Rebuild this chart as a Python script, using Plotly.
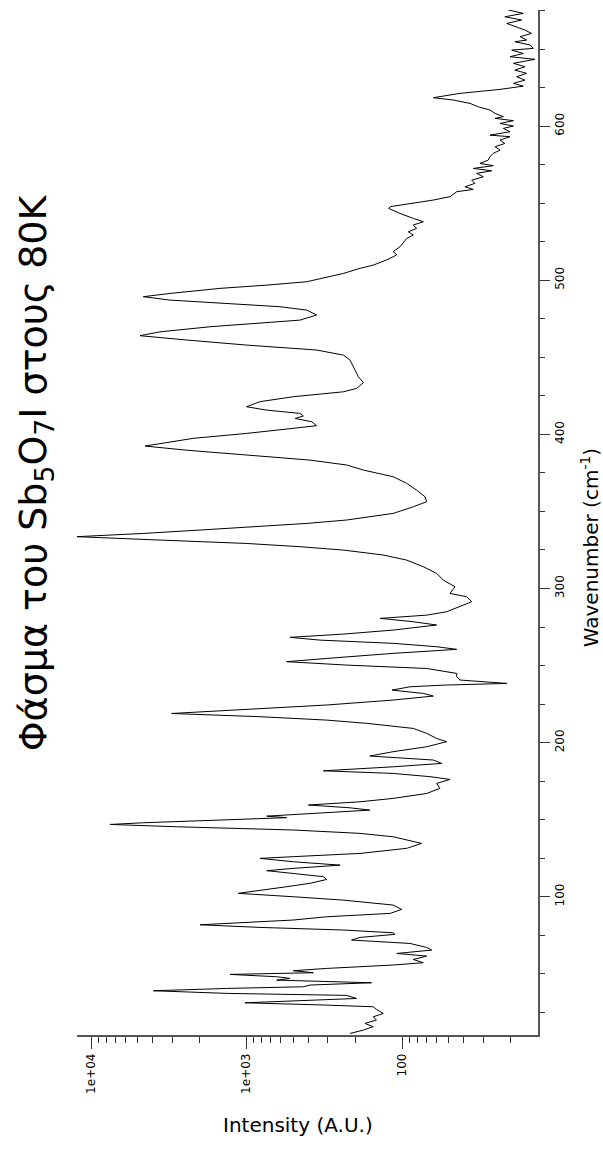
import plotly.graph_objects as go

# Raman spectrum of Sb5O7I at 80K
wavenumber = [
    675.3, 673.1, 670.9, 668.8, 666.6, 664.4, 662.3, 660.1, 658.0, 655.8, 654.7, 652.6, 650.4, 649.3,
    647.1, 645.0, 643.3, 640.7, 638.5, 636.3, 634.2, 632.0, 629.8, 627.7, 625.9, 623.8, 621.2, 618.4,
    616.9, 614.7, 612.5, 610.4, 608.2, 606.1, 605.0, 603.5, 601.7, 600.0, 598.5, 596.3, 594.1, 593.1,
    590.9, 588.7, 586.6, 584.4, 582.3, 580.1, 577.9, 575.8, 574.3, 572.5, 571.0, 569.3, 567.1, 564.9,
    562.8, 560.6, 558.9, 557.4, 554.2, 552.0, 549.8, 547.7, 546.6, 545.1, 543.3, 540.1, 537.9, 535.8,
    533.6, 531.4, 529.3, 527.1,
    521.7, 518.5, 516.5, 515.2, 513.1, 509.8, 507.7, 504.4, 501.2, 499.0, 496.8, 494.7, 491.4, 489.3,
    487.1, 485.0, 482.8, 480.6, 477.4, 474.1, 472.0, 469.8, 466.5, 464.0, 461.2, 457.9, 454.7,
    451.4, 448.2, 441.7, 437.4, 433.5, 429.8, 427.6, 424.4, 421.2, 417.9, 415.7, 413.6, 411.9, 410.3,
    408.2, 405.6, 403.9, 400.6, 397.4, 394.1, 392.4, 389.7, 386.6, 383.3, 380.1, 376.8, 372.5, 368.2,
    363.8, 359.5, 356.3, 353.0,
    348.7, 346.5, 344.4, 342.2, 340.0, 337.9, 335.7, 333.6, 331.4, 329.2, 327.1, 324.9, 321.7, 318.4,
    314.1, 309.8, 305.4, 301.1, 296.8, 294.6, 291.4, 288.1, 284.9, 282.7, 280.6, 278.4, 276.3, 273.0,
    270.4, 268.3, 266.5, 264.4, 262.2, 260.5, 257.9, 254.6, 252.5, 250.3, 248.1, 244.9, 242.7, 240.6,
    238.4, 237.3,
    236.2, 234.1, 231.9, 230.2, 227.6, 224.4, 221.1, 218.9, 216.8, 214.6, 212.5, 209.2, 206.0, 202.7,
    200.6, 197.3, 194.1, 191.3, 188.7, 186.5, 184.3, 181.7, 180.0, 177.9, 176.1, 173.5, 170.3, 167.0,
    163.8, 161.6, 159.5, 157.7, 156.2, 154.1, 152.3, 151.3, 149.7, 148.0, 146.9, 145.4, 143.3, 141.1,
    138.9, 135.7, 134.6, 131.4, 128.1, 126.0,
    124.9, 122.7, 120.5, 118.4, 116.9, 115.1, 113.0, 111.2, 108.7, 106.5, 104.3, 102.2, 100.0, 97.8,
    94.6, 91.8, 89.2, 87.0, 84.9, 82.7, 81.8, 80.1, 78.4, 76.6, 75.6, 73.6, 71.9, 69.7,
    67.1, 65.4, 63.2, 61.5, 59.3, 57.2, 55.7, 53.5, 52.0, 50.7, 49.6, 48.1, 47.0, 45.9,
    44.2, 42.7, 41.6, 40.5, 39.0, 37.3, 36.0, 34.0, 32.5, 31.2, 29.7, 28.6, 26.9, 24.3,
    22.1, 20.0, 17.8, 15.7, 13.5, 11.3,
]

intensity = [
    20.7, 16.6, 21.8, 17.0, 21.2, 18.3, 16.2, 14.7, 17.4, 15.8, 18.8, 15.0, 14.3, 19.7,
    16.6, 20.2, 14.0, 19.2, 16.2, 18.8, 15.8, 18.3, 16.2, 19.2, 16.6, 23.4, 42.4, 62.9,
    46.8, 36.5, 32.3, 27.2, 25.2, 22.3, 25.2, 19.2, 23.4, 19.2, 22.3, 20.2, 27.2, 20.2,
    23.4, 21.8, 25.2, 23.4, 25.9, 27.2, 27.9, 31.5, 25.9, 34.8, 26.5, 33.1, 30.0, 35.6,
    34.0, 39.4, 34.8, 44.5, 49.1, 62.9, 88.8, 119, 122, 114, 103, 84.6, 72.9, 84.6,
    80.5, 91.1, 84.6, 93.3,
    103, 114, 108, 114, 126, 153, 186, 238, 320, 410, 741, 1481, 3105, 4607,
    3105, 1342, 609, 410, 354, 453, 860, 1716, 3597, 4840, 2427, 998, 354,
    238, 216, 201, 191, 177, 196, 238, 500, 818, 998, 741, 453, 431, 487,
    381, 354, 500, 998, 2197, 3597, 4495, 2427, 998, 391, 227, 177, 114, 93.3,
    80.5, 71.1, 69.4, 84.6,
    114, 161, 227, 410, 998, 1990, 4607, 12360, 3597, 998, 453, 238, 132, 93.3,
    72.9, 59.9, 54.2, 45.6, 49.1, 38.4, 35.6, 42.4, 51.6, 69.4, 138, 84.6, 59.9, 114,
    238, 525, 337, 114, 59.9, 44.5, 114, 305, 552, 227, 69.4, 44.5, 44.5, 42.4,
    21.2, 54.2,
    88.8, 116, 72.9, 62.9, 114, 305, 1342, 3030, 818, 305, 169, 84.6, 69.4, 59.9,
    51.6, 69.4, 114, 161, 62.9, 55.6, 114, 320, 114, 66.1, 49.1, 59.9, 57.0, 69.4,
    114, 186, 400, 216, 161, 372, 741, 552, 1716, 4607, 7550, 2812, 500, 186,
    114, 80.5, 74.8, 93.3, 186, 500,
    818, 500, 250, 500, 741, 500, 320, 305, 391, 552, 818, 1130, 500, 238,
    114, 100.5, 119, 305, 500, 1342, 1990, 818, 238, 114, 111, 186, 211, 88.8,
    69.4, 64.4, 108, 69.4, 84.6, 72.9, 114, 305, 500, 372, 1277, 640, 525, 640,
    157, 391, 431, 1342, 3970, 1342, 227, 196, 500, 1023, 305, 153, 146, 132,
    153, 146, 173, 153, 177, 216,
]

x_tick_vals = [100, 1000, 10000]
x_tick_text = ["100", "1e+03", "1e+04"]
x_minor_vals = [20, 30, 40, 50, 60, 70, 80, 90,
                200, 300, 400, 500, 600, 700, 800, 900,
                2000, 3000, 4000, 5000, 6000, 7000, 8000, 9000]
y_tick_vals = [100, 200, 300, 400, 500, 600]

title_text = "Φάσμα του Sb<sub>5</sub>O<sub>7</sub>I στους 80K"
x_title = "Intensity (A.U.)"
y_title = "Wavenumber (cm<sup>-1</sup>)"

FONT = "DejaVu Sans"
AXIS_COLOR = "#555555"

fig = go.Figure()
fig.add_trace(go.Scatter(
    x=intensity, y=wavenumber, mode="lines",
    line=dict(color="black", width=1),
    showlegend=False, hoverinfo="skip",
))

fig.update_layout(
    width=603, height=1152,
    margin=dict(l=77, r=65, t=10, b=117),
    paper_bgcolor="white", plot_bgcolor="white",
    font=dict(family=FONT, color="black"),
    xaxis=dict(
        type="log", range=[4.090, 1.1254],
        tickmode="array", tickvals=x_tick_vals, ticktext=x_tick_text,
        tickangle=-90, tickfont=dict(size=12, family=FONT, color="black"),
        ticks="outside", ticklen=12, tickwidth=1, tickcolor="#333333",
        minor=dict(tickmode="array", tickvals=x_minor_vals, ticks="outside",
                   ticklen=6, tickwidth=1, tickcolor="#333333"),
        showline=True, linecolor=AXIS_COLOR, linewidth=1.5,
        showgrid=False, zeroline=False, automargin=False,
    ),
    yaxis=dict(
        side="right", range=[10.3, 675.3],
        tickmode="array", tickvals=y_tick_vals,
        tickangle=-90, tickfont=dict(size=12, family=FONT, color="black"),
        ticks="outside", ticklen=10, tickwidth=1, tickcolor="#333333",
        minor=dict(dtick=25, tick0=0, ticks="outside", ticklen=5,
                   tickwidth=1, tickcolor="#333333"),
        showline=True, linecolor=AXIS_COLOR, linewidth=1.5,
        showgrid=False, zeroline=False, automargin=False,
    ),
)

fig.add_annotation(
    text=title_text, xref="paper", yref="paper",
    x=-0.0911, y=0.548, xanchor="center", yanchor="middle",
    textangle=-90, showarrow=False,
    font=dict(size=38, family=FONT, color="black"),
)
fig.add_annotation(
    text=x_title, xref="paper", yref="paper",
    x=0.479, y=-0.0878, xanchor="center", yanchor="middle",
    showarrow=False, font=dict(size=20, family=FONT, color="black"),
)
fig.add_annotation(
    text=y_title, xref="paper", yref="paper",
    x=1.113, y=0.475, xanchor="center", yanchor="middle",
    textangle=-90, showarrow=False,
    font=dict(size=20, family=FONT, color="black"),
)

fig.write_html(
    "out.html",
    config={"displayModeBar": False},
    post_script="document.body.style.margin='0';document.body.style.padding='0';",
)
